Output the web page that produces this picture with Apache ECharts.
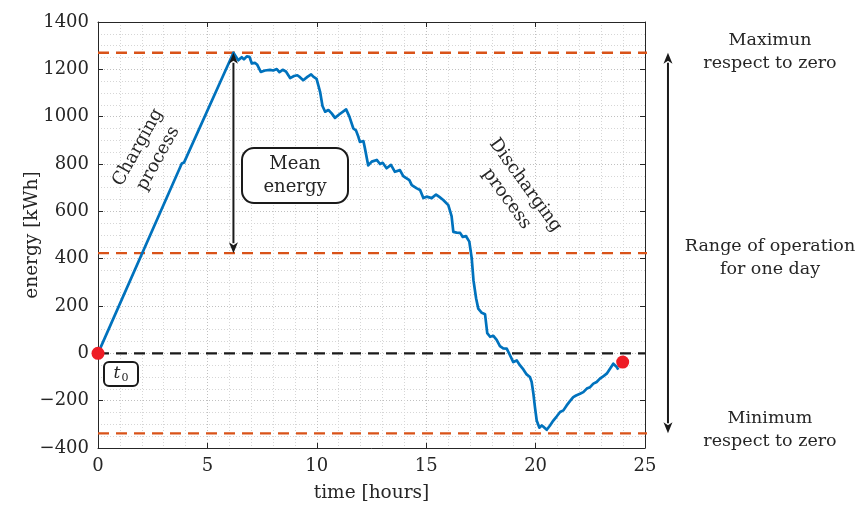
<!DOCTYPE html>
<html>
<head>
<meta charset="utf-8">
<script src="https://cdn.jsdelivr.net/npm/echarts@6/dist/echarts.min.js"></script>
<style>
  html, body { margin: 0; padding: 0; background: #ffffff; }
  #chart { width: 857px; height: 508px; }
</style>
</head>
<body>
<div id="chart"></div>
<script>
// Time of day (hours) and stored energy (kWh) over one day
const times = [
  0, 3.83, 3.93, 6.19, 6.41, 6.57, 6.67, 6.80, 6.92, 7.03, 7.18, 7.28, 7.44, 7.63,
  7.86, 8.01, 8.17, 8.29, 8.44, 8.59, 8.78, 8.96, 9.11, 9.23, 9.38, 9.57, 9.74,
  9.84, 9.99, 10.15, 10.26, 10.38, 10.53, 10.68, 10.83, 11.02, 11.34, 11.49, 11.67,
  11.79, 11.90, 11.97, 12.13, 12.20, 12.35, 12.51, 12.74, 12.89, 13.01, 13.19,
  13.39, 13.57, 13.80, 13.95, 14.23, 14.34, 14.57, 14.72, 14.87, 15.02, 15.25,
  15.45, 15.60, 15.78, 16.01, 16.16, 16.24, 16.39, 16.55, 16.67, 16.82, 16.97,
  17.08, 17.16, 17.28, 17.38, 17.54, 17.69, 17.79, 17.92, 18.07, 18.22, 18.37,
  18.52, 18.68, 18.83, 18.98, 19.14, 19.29, 19.44, 19.59, 19.74, 19.82, 19.90,
  19.97, 20.05, 20.17, 20.28, 20.38, 20.51, 20.66, 20.81, 20.96, 21.12, 21.27,
  21.42, 21.57, 21.72, 21.85, 22.03, 22.18, 22.34, 22.49, 22.64, 22.79, 22.94,
  23.09, 23.25, 23.40, 23.55, 23.63, 23.71, 23.78
];
const energy = [
  0, 802, 806, 1270, 1238, 1251, 1242, 1255, 1253, 1225, 1227, 1219, 1189, 1195,
  1198, 1195, 1201, 1188, 1198, 1191, 1163, 1172, 1175, 1167, 1154, 1168, 1179,
  1169, 1160, 1105, 1045, 1021, 1028, 1014, 995, 1009, 1031, 1000, 950,
  942, 915, 893, 897, 866, 794, 810, 817, 800, 805, 782,
  796, 767, 774, 749, 732, 711, 697, 690, 656, 662, 656,
  671, 661, 648, 626, 580, 513, 510, 509, 492, 495, 472,
  402, 309, 233, 189, 171, 165, 85, 70, 74, 57, 30,
  21, 20, -8, -37, -30, -51, -68, -89, -100, -121, -171,
  -227, -284, -314, -305, -312, -323, -305, -284, -267, -248, -241,
  -220, -202, -185, -178, -171, -164, -149, -143, -128, -121, -107,
  -97, -86, -65, -44, -37, -58, -69
];

// Reference levels (kWh)
const maxLevel = 1270;
const meanLevel = 423;
const minLevel = -338;
const zeroLevel = 0;

// Start / end of the day markers [hour, kWh]
const dayMarkers = [[0, 0], [23.98, -37]];

// Axis setup
const xMin = 0, xMax = 25, xStep = 5;
const yMin = -400, yMax = 1400, yStep = 200;
const peakHour = 6.19;      // where the mean-energy arrow stands
const refLineEnd = 26.05;   // reference lines run past the axes to the range arrow

const FONT = "'DejaVu Serif', 'Liberation Serif', serif";
const INK = '#262626';
const ORANGE = '#D95319';

const chart = echarts.init(document.getElementById('chart'), null, { renderer: 'canvas' });

const minusFmt = v => String(v).replace('-', '\u2212');

function levelSeries(level, color, xEnd) {
  return {
    type: 'line',
    data: [[xMin, level], [xEnd, level]],
    symbol: 'none',
    clip: false,
    silent: true,
    z: 3,
    lineStyle: { color: color, width: 2.3, type: [11, 7] }
  };
}

const gridLine = { show: true, lineStyle: { color: '#c0c0c0', width: 1, type: [1, 2] } };
const minorGridLine = { show: true, lineStyle: { color: '#d6d6d6', width: 1, type: [1, 2] } };

const option = {
  animation: false,
  backgroundColor: '#ffffff',
  grid: { left: 98, right: 212, top: 22, bottom: 60, containLabel: false, outerBoundsMode: 'none' },
  xAxis: [
    {
      type: 'value', min: xMin, max: xMax, interval: xStep,
      name: 'time [hours]', nameLocation: 'middle', nameGap: 36, nameMoveOverlap: false,
      nameTextStyle: { fontFamily: FONT, fontSize: 18.5, color: INK },
      axisLine: { show: true, onZero: false, lineStyle: { color: INK, width: 1 } },
      axisTick: { show: true, inside: true, length: 5, lineStyle: { color: INK } },
      axisLabel: { fontFamily: FONT, fontSize: 18, color: INK, margin: 9, formatter: minusFmt },
      minorTick: { show: false, splitNumber: 5 },
      splitLine: gridLine,
      minorSplitLine: minorGridLine
    },
    {
      type: 'value', min: xMin, max: xMax, interval: xStep, position: 'top',
      axisLine: { show: true, onZero: false, lineStyle: { color: INK, width: 1 } },
      axisTick: { show: true, inside: true, length: 5, lineStyle: { color: INK } },
      axisLabel: { show: false }, splitLine: { show: false }
    }
  ],
  yAxis: [
    {
      type: 'value', min: yMin, max: yMax, interval: yStep,
      name: 'energy [kWh]', nameLocation: 'middle', nameGap: 56, nameRotate: 90, nameMoveOverlap: false,
      nameTextStyle: { fontFamily: FONT, fontSize: 18.5, color: INK },
      axisLine: { show: true, onZero: false, lineStyle: { color: INK, width: 1 } },
      axisTick: { show: true, inside: true, length: 5, lineStyle: { color: INK } },
      axisLabel: { fontFamily: FONT, fontSize: 18, color: INK, margin: 9, formatter: minusFmt },
      minorTick: { show: false, splitNumber: 4 },
      splitLine: gridLine,
      minorSplitLine: minorGridLine
    },
    {
      type: 'value', min: yMin, max: yMax, interval: yStep, position: 'right',
      axisLine: { show: true, onZero: false, lineStyle: { color: INK, width: 1 } },
      axisTick: { show: true, inside: true, length: 5, lineStyle: { color: INK } },
      axisLabel: { show: false }, splitLine: { show: false }
    }
  ],
  series: [
    levelSeries(maxLevel, ORANGE, refLineEnd),
    levelSeries(meanLevel, ORANGE, refLineEnd),
    levelSeries(minLevel, ORANGE, refLineEnd),
    levelSeries(zeroLevel, '#1a1a1a', xMax),
    {
      name: 'energy',
      type: 'line',
      data: times.map((t, i) => [t, energy[i]]),
      symbol: 'none',
      z: 4,
      lineStyle: { color: '#0072BD', width: 2.7, join: 'round' }
    },
    {
      type: 'scatter',
      data: dayMarkers,
      symbol: 'circle',
      symbolSize: 13,
      clip: false,
      z: 6,
      itemStyle: { color: '#EE1C25', opacity: 1 }
    }
  ]
};

chart.setOption(option);

// Double-headed arrows, placed through the chart's own coordinate system
function doubleArrow(xVal, yTop, yBottom) {
  const a = chart.convertToPixel({ gridIndex: 0 }, [xVal, yTop]);
  const b = chart.convertToPixel({ gridIndex: 0 }, [xVal, yBottom]);
  const x = a[0];
  const headLen = 11, halfW = 4.5, notch = 3;
  const color = '#1a1a1a';
  return [
    { type: 'line', z: 10, shape: { x1: x, y1: a[1] + headLen - 1, x2: x, y2: b[1] - headLen + 1 },
      style: { stroke: color, lineWidth: 2 } },
    { type: 'polygon', z: 10, shape: { points: [[x, a[1]], [x + halfW, a[1] + headLen], [x, a[1] + headLen - notch], [x - halfW, a[1] + headLen]] },
      style: { fill: color } },
    { type: 'polygon', z: 10, shape: { points: [[x, b[1]], [x + halfW, b[1] - headLen], [x, b[1] - headLen + notch], [x - halfW, b[1] - headLen]] },
      style: { fill: color } }
  ];
}

function label(text, x, y, opts) {
  opts = opts || {};
  return {
    type: 'text', z: 12, x: x, y: y,
    rotation: (opts.rotate || 0) * Math.PI / 180,
    style: {
      text: text,
      fontFamily: FONT,
      fontSize: opts.size || 17.5,
      fill: INK,
      align: 'center',
      verticalAlign: 'middle',
      lineHeight: opts.lineHeight || 23
    }
  };
}

const graphics = []
  .concat(doubleArrow(peakHour, maxLevel, meanLevel))
  .concat(doubleArrow(refLineEnd, maxLevel, minLevel))
  .concat([
    // Mean energy box
    { type: 'rect', z: 11, shape: { x: 242, y: 148, width: 106, height: 55, r: 12 },
      style: { fill: '#ffffff', stroke: '#1a1a1a', lineWidth: 2 } },
    label('Mean\nenergy', 295, 176, { size: 18 }),
    // t0 box
    { type: 'rect', z: 11, shape: { x: 104, y: 362, width: 34, height: 24, r: 5 },
      style: { fill: '#ffffff', stroke: '#1a1a1a', lineWidth: 2 } },
    {
      type: 'text', z: 12, x: 121, y: 374,
      style: {
        text: '{t|t}{s|0}',
        align: 'center', verticalAlign: 'middle',
        rich: {
          t: { fontFamily: FONT, fontStyle: 'italic', fontSize: 17, fill: INK },
          s: { fontFamily: FONT, fontSize: 11, fill: INK, padding: [8, 0, 0, 1] }
        }
      }
    },
    label('Charging\nprocess', 148, 153, { rotate: 61, size: 18 }),
    label('Discharging\nprocess', 516, 192, { rotate: -54, size: 18 }),
    label('Maximun\nrespect to zero', 770, 52),
    label('Range of operation\nfor one day', 770, 258),
    label('Minimum\nrespect to zero', 770, 430)
  ]);

chart.setOption({ graphic: graphics });
</script>
</body>
</html>
